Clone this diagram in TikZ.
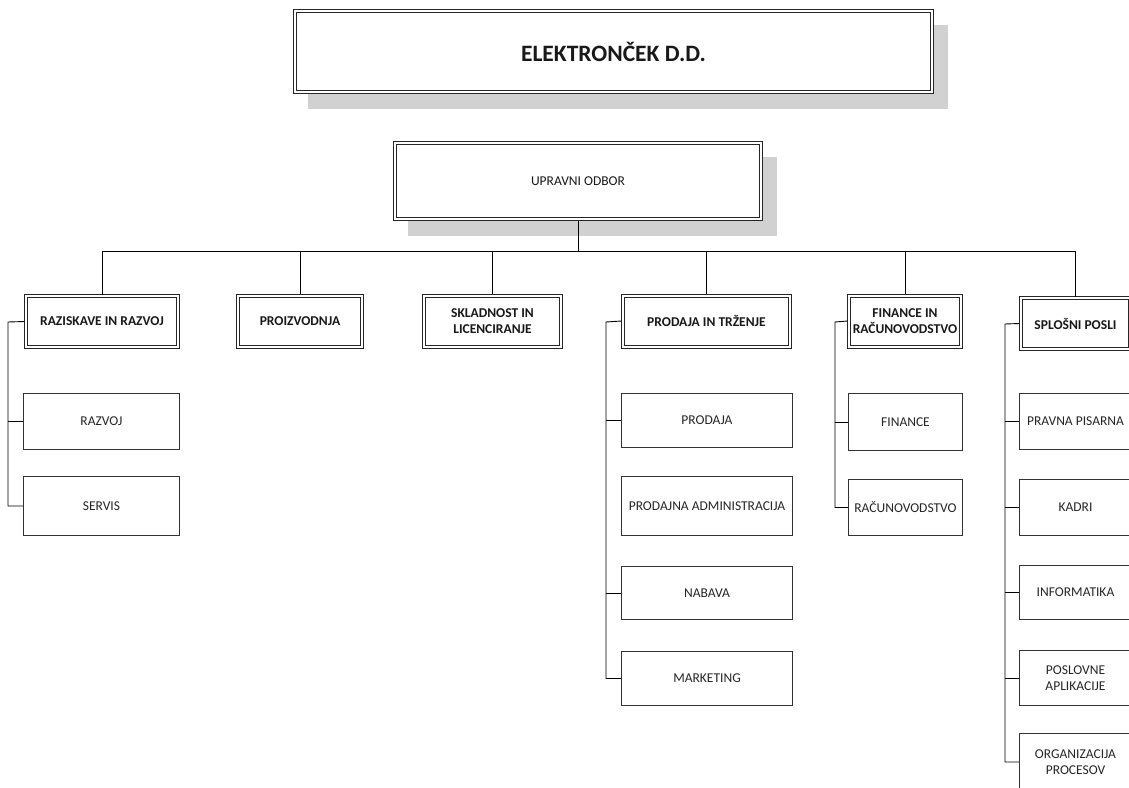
\documentclass[tikz,border=0pt]{standalone}
\usepackage{fontspec}
\setmainfont{Carlito}
\usetikzlibrary{shadows}

\tikzset{
	unit/.style={draw=black!85, fill=white, line width=0.8pt, outer sep=0pt, align=center, inner sep=2pt, text=black!90, font=\bfseries\fontsize{13.5}{16}\selectfont,
		path picture={\draw[black!85, line width=0.8pt] ([shift={(3pt,-3pt)}]path picture bounding box.north west) rectangle ([shift={(-3pt,3pt)}]path picture bounding box.south east);}},
	dept/.style={draw=black!80, fill=white, line width=0.9pt, align=center, inner sep=2pt, text=black!85, font=\fontsize{13.5}{16.5}\selectfont},
	link/.style={line width=0.9pt, black},
	shade/.style={drop shadow={shadow xshift=14pt, shadow yshift=-15pt, fill=black!18, opacity=1}}
}

\begin{document}
\begin{tikzpicture}[x=1pt, y=-1pt]
		%%%%% START %%%%%
		\useasboundingbox (0, 0) rectangle (1129, 787);
		
		\node[unit, shade, minimum width=640, minimum height=84, font=\bfseries\fontsize{23.5}{28}\selectfont] (firm) at (613.5, 51.5) {ELEKTRONČEK D.D.};
		\node[unit, shade, minimum width=369, minimum height=79, font=\fontsize{13.5}{16}\selectfont] (board) at (578, 181) {UPRAVNI ODBOR};
		
		\node[unit, minimum width=155, minimum height=54] (rr) at (102, 321.5) {RAZISKAVE IN RAZVOJ};
		\node[unit, minimum width=127, minimum height=54] (proiz) at (300, 321) {PROIZVODNJA};
		\node[unit, minimum width=140, minimum height=54] (sklad) at (492.5, 321) {SKLADNOST IN\\LICENCIRANJE};
		\node[unit, minimum width=170, minimum height=54] (prod) at (706.5, 321) {PRODAJA IN TRŽENJE};
		\node[unit, minimum width=115, minimum height=54] (fin) at (905, 321) {FINANCE IN\\RAČUNOVODSTVO};
		\node[unit, minimum width=112, minimum height=54] (splo) at (1075.5, 323.5) {SPLOŠNI POSLI};
		
		\node[dept, minimum width=156, minimum height=56] (razvoj) at (101.5, 421.5) {RAZVOJ};
		\node[dept, minimum width=156, minimum height=59] (servis) at (101.5, 506) {SERVIS};
		
		\node[dept, minimum width=171, minimum height=54] (prodaja) at (707, 420.5) {PRODAJA};
		\node[dept, minimum width=171, minimum height=59] (padmin) at (707, 506) {PRODAJNA ADMINISTRACIJA};
		\node[dept, minimum width=171, minimum height=53] (nabava) at (707, 593) {NABAVA};
		\node[dept, minimum width=171, minimum height=54] (marketing) at (707, 678.5) {MARKETING};
		
		\node[dept, minimum width=114, minimum height=57] (finance) at (905.5, 422) {FINANCE};
		\node[dept, minimum width=114, minimum height=56] (racun) at (905.5, 507.5) {RAČUNOVODSTVO};
		
		\node[dept, minimum width=112, minimum height=56] (pravna) at (1075.5, 421.5) {PRAVNA PISARNA};
		\node[dept, minimum width=112, minimum height=56] (kadri) at (1075.5, 507.5) {KADRI};
		\node[dept, minimum width=112, minimum height=54] (informatika) at (1075.5, 592.5) {INFORMATIKA};
		\node[dept, minimum width=112, minimum height=55] (poslovne) at (1075.5, 678) {POSLOVNE\\APLIKACIJE};
		\node[dept, minimum width=112, minimum height=57] (organizacija) at (1075.5, 762) {ORGANIZACIJA\\PROCESOV};
		
		% board to units
		\coordinate (hub) at (578, 251);
		\draw[link] (board.south) -- (hub);
		\draw[link] (hub -| rr.north) -- (hub -| splo.north);
		\foreach \u in {rr, proiz, sklad, prod, fin, splo}
			\draw[link] (hub -| \u.north) -- (\u.north);
		
		% units to departments
		\coordinate (rrbus) at (8, 322);
		\draw[link] (rr.west) -- (rrbus) |- (servis.west);
		\draw[link] (rrbus |- razvoj.west) -- (razvoj.west);
		
		\coordinate (prodbus) at (606, 322);
		\draw[link] (prod.west) -- (prodbus) |- (marketing.west);
		\foreach \d in {prodaja, nabava}
			\draw[link] (prodbus |- \d.west) -- (\d.west);
		
		\coordinate (finbus) at (835, 322);
		\draw[link] (fin.west) -- (finbus) |- (racun.west);
		\draw[link] (finbus |- finance.west) -- (finance.west);
		
		\coordinate (splobus) at (1005, 324);
		\draw[link] (splo.west) -- (splobus) |- (organizacija.west);
		\foreach \d in {pravna, kadri, informatika, poslovne}
			\draw[link] (splobus |- \d.west) -- (\d.west);
		%%%%% END %%%%%
\end{tikzpicture}
\end{document}
